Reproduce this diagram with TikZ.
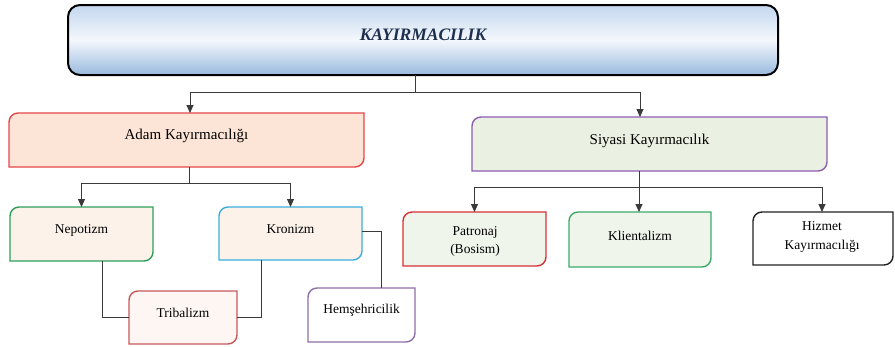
\documentclass[tikz,border=0pt]{standalone}
\usepackage{fontspec}
\setmainfont{Liberation Serif}
\usetikzlibrary{arrows.meta}
\pgfdeclarelayer{bg}
\pgfsetlayers{bg,main}
\definecolor{lnc}{HTML}{3A3A3A}
\definecolor{adamF}{HTML}{FCE4D6}\definecolor{adamD}{HTML}{E4474A}
\definecolor{siyF}{HTML}{EBF1E2}\definecolor{siyD}{HTML}{8A5DB0}
\definecolor{peachF}{HTML}{FDF2EA}
\definecolor{nepD}{HTML}{2E9E5A}
\definecolor{kroD}{HTML}{3AAEDC}
\definecolor{triF}{HTML}{FEF6F3}\definecolor{triD}{HTML}{C8585A}
\definecolor{hemD}{HTML}{8E6FA8}
\definecolor{grF}{HTML}{EFF5EB}
\definecolor{patD}{HTML}{D63034}
\definecolor{kliD}{HTML}{3DAA6A}
\definecolor{hizD}{HTML}{222222}
\definecolor{titleC}{HTML}{1F2F4F}
\definecolor{topT}{HTML}{C3D7EE}
\definecolor{topM}{HTML}{F4F8FC}
\definecolor{topB}{HTML}{99B9DE}
\newcommand\cornerbox[4][9pt]{%
  \begin{pgfonlayer}{bg}
  \draw[#2, fill=#3, line width=1.4pt]
    ([yshift=-#1]#4.north west) arc[start angle=180, end angle=90, radius=#1]
    -- (#4.north east) -- ([yshift=#1]#4.south east)
    arc[start angle=0, end angle=-90, radius=#1] -- (#4.south west) -- cycle;
  \end{pgfonlayer}}
\begin{document}
\begin{tikzpicture}[x=1pt,y=-1pt,
  frame/.style={inner sep=0pt, outer sep=0pt},
  big/.style={font=\fontsize{15}{18}\selectfont},
  small/.style={font=\fontsize{13.5}{18.5}\selectfont, align=center},
  conn/.style={draw=lnc, line width=0.9pt},
  arr/.style={conn, -{Triangle[length=8pt,width=7pt]}, shorten >=0pt}]
\useasboundingbox (0,0) rectangle (895,346);
% top box
\node[frame, minimum width=710pt, minimum height=70pt, rounded corners=12pt,
  draw=black, line width=2pt, top color=topT, bottom color=topB, middle color=topM] (top) at (423,40) {};
\node (title) at (423,35) {\fontsize{17.5}{20}\selectfont\bfseries\itshape\color{titleC}KAYIRMACILIK};
% level 1 boxes
\node[frame, minimum width=355pt, minimum height=54pt] (adam) at (186.5,140) {};
\cornerbox{adamD}{adamF}{adam}
\node[big] (adamt) at (186.5,136) {Adam Kayırmacılığı};
\node[frame, minimum width=355pt, minimum height=54pt] (siy) at (649.5,144) {};
\cornerbox{siyD}{siyF}{siy}
\node[big] (siyt) at (649.5,141) {Siyasi Kayırmacılık};
% level 2 left
\node[frame, minimum width=143pt, minimum height=54pt] (nep) at (81.5,234) {};
\cornerbox{nepD}{peachF}{nep}
\node[small] (nept) at (81.5,230) {Nepotizm};
\node[frame, minimum width=143pt, minimum height=53pt] (kro) at (290.5,233.5) {};
\cornerbox{kroD}{peachF}{kro}
\node[small] (krot) at (290.5,229) {Kronizm};
\node[frame, minimum width=108pt, minimum height=53pt] (tri) at (183,317.5) {};
\cornerbox{triD}{triF}{tri}
\node[small] (trit) at (183,313) {Tribalizm};
\node[frame, minimum width=107pt, minimum height=54pt] (hem) at (361.5,315) {};
\cornerbox{hemD}{white}{hem}
\node[small] (hemt) at (361.5,310) {Hemşehricilik};
% level 2 right
\node[frame, minimum width=143pt, minimum height=54pt] (pat) at (474.5,239) {};
\cornerbox{patD}{grF}{pat}
\node[small] (patt) at (475,241.5) {Patronaj\\(Bosism)};
\node[frame, minimum width=142pt, minimum height=55pt] (kli) at (640,239.5) {};
\cornerbox{kliD}{grF}{kli}
\node[small] (klit) at (640,236) {Klientalizm};
\node[frame, minimum width=140pt, minimum height=53pt] (hiz) at (823,238.5) {};
\cornerbox{hizD}{white}{hiz}
\node[small] (hizt) at (822,237) {Hizmet\\Kayırmacılığı};
% connectors
\coordinate (j1) at (415,92);
\draw[conn] (top.south -| j1) -- (j1);
\draw[arr] (j1) -| ([xshift=3.5pt]adam.north);
\draw[arr] (j1) -| ([xshift=-9.5pt]siy.north);
\coordinate (j2) at (189,183);
\draw[conn] (adam.south -| j2) -- (j2);
\draw[arr] (j2) -| (nep.north);
\draw[arr] (j2) -| (kro.north);
\coordinate (j3) at (639,187);
\draw[conn] (siy.south -| j3) -- (j3);
\draw[arr] (j3) -| (pat.north);
\draw[arr] (j3) -- (kli.north -| j3);
\draw[arr] (j3) -| ([xshift=-1pt]hiz.north);
\draw[conn] ([xshift=20.5pt]nep.south) |- (tri.west);
\draw[conn] (tri.east) -| ([xshift=-29.5pt]kro.south);
\draw[conn] ([yshift=2.5pt]kro.east) -| ([xshift=19.5pt]hem.north);
\end{tikzpicture}
\end{document}
